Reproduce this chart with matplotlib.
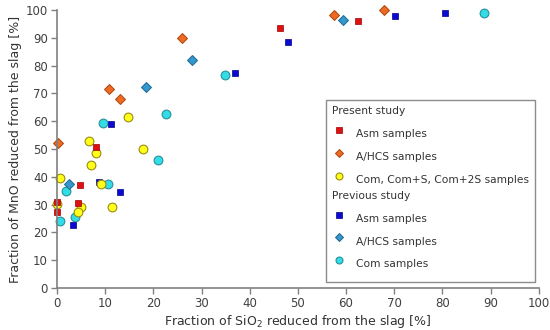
import numpy as np
from matplotlib import pyplot as plt
from matplotlib.lines import Line2D

plt.rcParams['font.family'] = ['DejaVu Sans']

# present study
asm_x = [0.0, 0.0, 4.8, 4.4, 8.1, 46.2, 62.5]
asm_y = [30.8, 27.4, 37.1, 30.5, 50.8, 93.6, 96.0]

ahcs_x = [0.3, 10.7, 13.1, 26.0, 57.6, 67.9]
ahcs_y = [52.0, 71.4, 67.9, 90.0, 98.3, 99.9]

com_x = [0.6, 0.0, 6.7, 8.1, 7.0, 14.7, 17.9, 9.2, 11.4, 4.9, 4.3]
com_y = [39.7, 30.1, 52.7, 48.5, 44.2, 61.4, 49.9, 37.3, 29.2, 29.0, 27.2]

# previous study
pasm_x = [11.2, 47.9, 36.9, 70.1, 80.6, 8.8, 13.0, 3.3]
pasm_y = [58.9, 88.6, 77.4, 97.8, 99.0, 38.2, 34.4, 22.5]

pahcs_x = [2.4, 18.4, 28.1, 59.3]
pahcs_y = [37.4, 72.2, 82.1, 96.5]

pcom_x = [34.9, 88.7, 9.5, 22.6, 20.9, 10.6, 1.8, 3.75, 0.6]
pcom_y = [76.7, 98.9, 59.2, 62.7, 45.9, 37.5, 34.8, 25.5, 24.1]

fig = plt.figure(figsize=(5.5, 3.3), dpi=100)
ax = fig.add_axes([0.1036, 0.127, 0.876, 0.843])

sq = dict(marker='s', linestyle='none', markersize=5, markeredgewidth=0.5)
dm = dict(marker='D', linestyle='none', markersize=4.6, markeredgewidth=0.7)
ci = dict(marker='o', linestyle='none', markersize=6.3, markeredgewidth=0.8)

ax.plot(pcom_x, pcom_y, color='#33dde6', markeredgecolor='#2a8f9c', clip_on=False, **ci)
ax.plot(pahcs_x, pahcs_y, color='#3399cc', markeredgecolor='#1f6690', clip_on=False, **dm)
ax.plot(pasm_x, pasm_y, color='#0a0ad0', markeredgecolor='#00008a', clip_on=False, **sq)
ax.plot(com_x, com_y, color='#ffff1a', markeredgecolor='#9a8c10', clip_on=False, **ci)
ax.plot(ahcs_x, ahcs_y, color='#ee6a22', markeredgecolor='#a8480f', clip_on=False, **dm)
ax.plot(asm_x, asm_y, color='#dd1111', markeredgecolor='#a00000', clip_on=False, **sq)

ax.set_xlim(0, 100)
ax.set_ylim(0, 100)
ax.set_xticks(np.arange(0, 101, 10))
ax.set_yticks(np.arange(0, 101, 10))
for s in ['top', 'right']:
    ax.spines[s].set_visible(False)
for s in ['left', 'bottom']:
    ax.spines[s].set_color('#808080')
    ax.spines[s].set_linewidth(1.2)
ax.tick_params(colors='#808080', labelcolor='#404040', labelsize=8.5, length=4, width=1, pad=2.5)

ax.set_xlabel('Fraction of SiO$_2$ reduced from the slag [%]', fontsize=9, color='#333333', labelpad=2)
ax.set_ylabel('Fraction of MnO reduced from the slag [%]', fontsize=9, color='#333333', labelpad=3)

# smaller markers in the legend
lsq = dict(sq, markersize=4)
ldm = dict(dm, markersize=3.8)
lci = dict(ci, markersize=5)

blank = Line2D([], [], linestyle='none')
handles = [
    blank,
    Line2D([], [], color='#dd1111', markeredgecolor='#a00000', **lsq),
    Line2D([], [], color='#ee6a22', markeredgecolor='#a8480f', **ldm),
    Line2D([], [], color='#ffff1a', markeredgecolor='#9a8c10', **lci),
    blank,
    Line2D([], [], color='#0a0ad0', markeredgecolor='#00008a', **lsq),
    Line2D([], [], color='#3399cc', markeredgecolor='#1f6690', **ldm),
    Line2D([], [], color='#33dde6', markeredgecolor='#2a8f9c', **lci),
]
labels = ['Present study', 'Asm samples', 'A/HCS samples', 'Com, Com+S, Com+2S samples',
          'Previous study', 'Asm samples', 'A/HCS samples', 'Com samples']
headers = ['Present study', 'Previous study']

leg = ax.legend(handles, labels, loc='upper left', bbox_to_anchor=(0.558, 0.676),
                fontsize=7.7, frameon=True, fancybox=False, edgecolor='#707070',
                handleheight=2.9, labelspacing=0.0, handlelength=1.2, handletextpad=1.0,
                borderpad=0.6, borderaxespad=0)
leg.get_frame().set_linewidth(1.0)
for t in leg.get_texts():
    t.set_color('#333333')

col = leg._legend_box.get_children()[1].get_children()[0]
for row in col.get_children():
    h, t = row.get_children()
    if t._text.get_text() in headers:
        h.width = 0
        h.height = 0
        row.sep = 0

fig.savefig('out.png', dpi=100)
